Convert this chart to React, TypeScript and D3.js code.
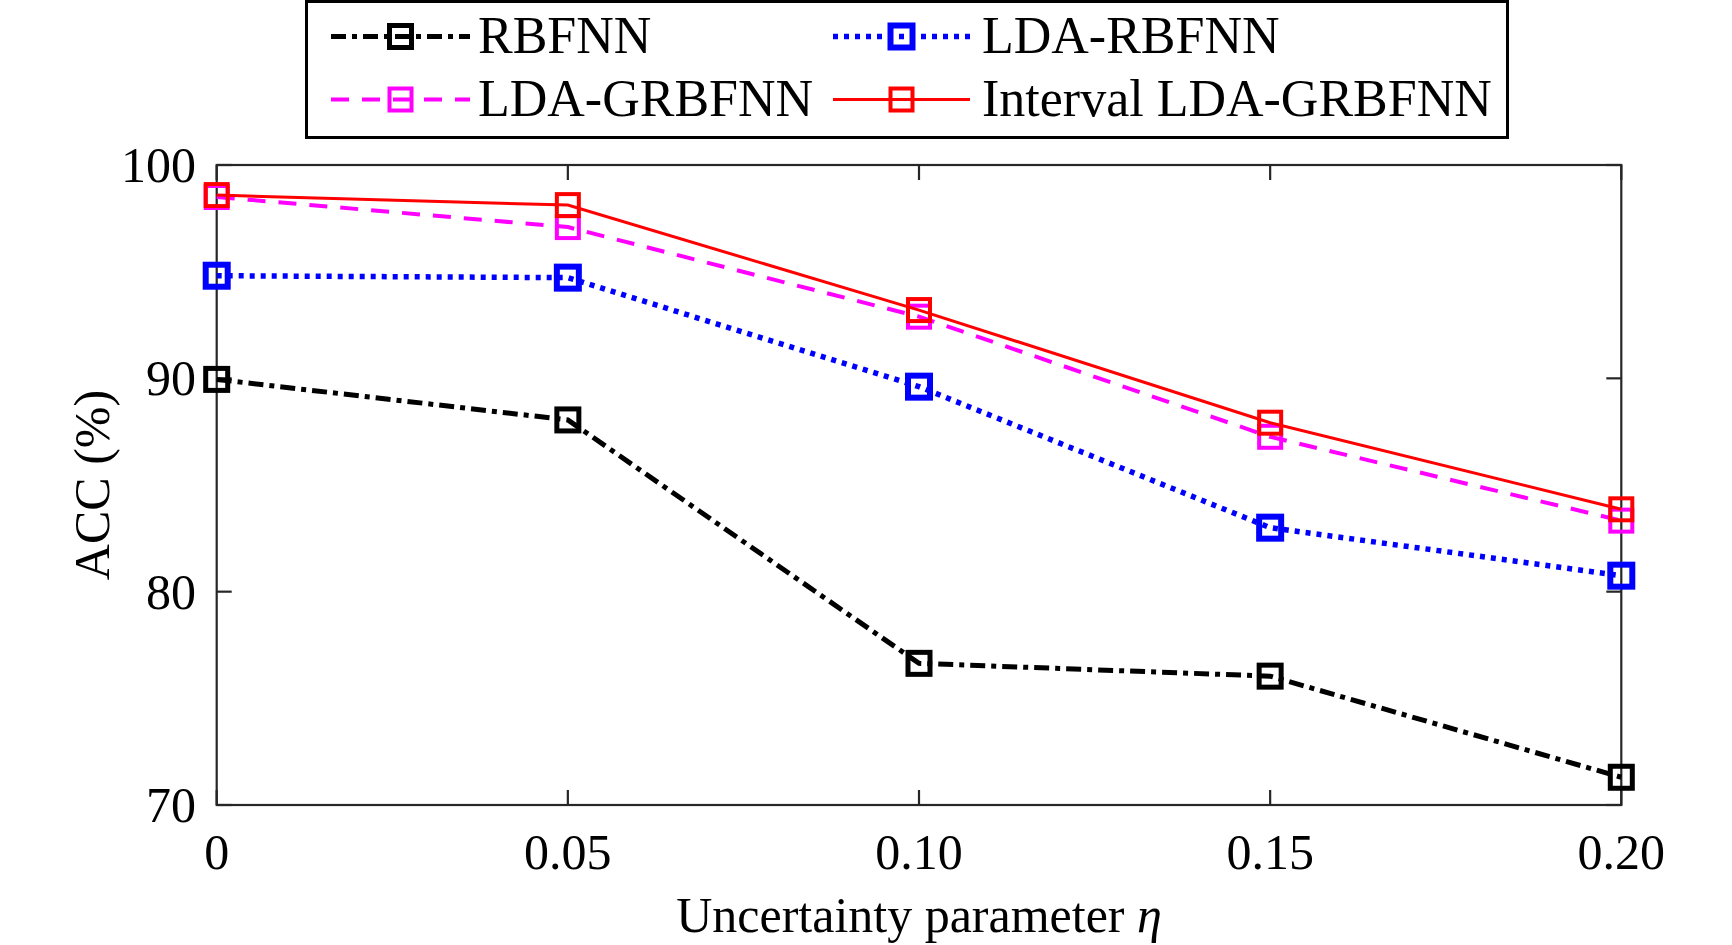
import React, { useEffect, useRef } from 'react';
import * as d3 from 'd3';

// uncertainty parameter values and their printed labels
const etaValues = [0, 0.05, 0.1, 0.15, 0.2];
const etaLabels = ['0', '0.05', '0.10', '0.15', '0.20'];
const accTicks = [70, 80, 90, 100];

// ACC (%) per method
const rbfnn = [89.95, 88.05, 76.64, 76.04, 71.3];
const ldaRbfnn = [94.81, 94.72, 89.61, 83.0, 80.75];
const ldaGrbfnn = [98.5, 97.09, 92.89, 87.26, 83.33];
const intervalLdaGrbfnn = [98.59, 98.12, 93.2, 87.92, 83.86];

const seriesNames = ['RBFNN', 'LDA-RBFNN', 'LDA-GRBFNN', 'Interval LDA-GRBFNN'];

const WIDTH = 1732;
const HEIGHT = 945;
const FONT = '"Liberation Serif", "Times New Roman", serif';

interface SeriesStyle {
  name: string;
  values: number[];
  color: string;
  width: number;
  dash: string | null;
  markerStroke: number;
}

const series: SeriesStyle[] = [
  { name: seriesNames[0], values: rbfnn, color: '#000000', width: 5, dash: '15,6,5,6', markerStroke: 5 },
  { name: seriesNames[1], values: ldaRbfnn, color: '#0000ff', width: 5.5, dash: '5,6', markerStroke: 6 },
  { name: seriesNames[2], values: ldaGrbfnn, color: '#ff00ff', width: 4, dash: '18,13', markerStroke: 4 },
  { name: seriesNames[3], values: intervalLdaGrbfnn, color: '#ff0000', width: 3, dash: null, markerStroke: 4 },
];

const Chart: React.FC = () => {
  const svgRef = useRef<SVGSVGElement>(null);

  useEffect(() => {
    if (!svgRef.current) return;
    const svg = d3.select(svgRef.current);
    svg.selectAll('*').remove();

    const left = 216.7, right = 1621.3, top = 165, bottom = 805;
    const axisColor = '#262626';
    const tickLen = 15;

    const x = d3.scaleLinear().domain([0, 0.2]).range([left, right]);
    const y = d3.scaleLinear().domain([70, 100]).range([bottom, top]);

    svg.append('rect').attr('width', WIDTH).attr('height', HEIGHT).attr('fill', '#fff');

    // box + ticks
    const axes = svg.append('g').attr('stroke', axisColor).attr('stroke-width', 2.2).attr('fill', 'none');
    axes.append('rect')
      .attr('x', left).attr('y', top)
      .attr('width', right - left).attr('height', bottom - top);

    etaValues.forEach(v => {
      axes.append('line').attr('x1', x(v)).attr('x2', x(v)).attr('y1', bottom).attr('y2', bottom - tickLen);
      axes.append('line').attr('x1', x(v)).attr('x2', x(v)).attr('y1', top).attr('y2', top + tickLen);
    });
    accTicks.forEach(v => {
      axes.append('line').attr('x1', left).attr('x2', left + tickLen).attr('y1', y(v)).attr('y2', y(v));
      axes.append('line').attr('x1', right).attr('x2', right - tickLen).attr('y1', y(v)).attr('y2', y(v));
    });

    // tick labels
    const labels = svg.append('g').attr('font-family', FONT).attr('font-size', 50).attr('fill', '#000');
    etaValues.forEach((v, i) => {
      labels.append('text')
        .attr('x', x(v)).attr('y', 869)
        .attr('text-anchor', 'middle')
        .text(etaLabels[i]);
    });
    accTicks.forEach(v => {
      labels.append('text')
        .attr('x', 196).attr('y', y(v) + 17)
        .attr('text-anchor', 'end')
        .text(String(v));
    });

    // axis titles
    const xt = labels.append('text')
      .attr('x', (left + right) / 2).attr('y', 932)
      .attr('text-anchor', 'middle');
    xt.append('tspan').text('Uncertainty parameter ');
    xt.append('tspan').attr('font-style', 'italic').text('η');

    labels.append('text')
      .attr('transform', `translate(109,${(top + bottom) / 2}) rotate(-90)`)
      .attr('text-anchor', 'middle')
      .text('ACC (%)');

    // series lines
    const line = d3.line<number>()
      .x((d, i) => x(etaValues[i]))
      .y(d => y(d));

    const markerSize = 22;
    const plot = svg.append('g');
    series.forEach(s => {
      const g = plot.append('g');
      g.append('path')
        .datum(s.values)
        .attr('d', line)
        .attr('fill', 'none')
        .attr('stroke', s.color)
        .attr('stroke-width', s.width)
        .attr('stroke-dasharray', s.dash)
        .attr('stroke-linejoin', 'miter');
      g.selectAll('rect')
        .data(s.values)
        .enter()
        .append('rect')
        .attr('x', (d, i) => x(etaValues[i]) - markerSize / 2)
        .attr('y', d => y(d) - markerSize / 2)
        .attr('width', markerSize)
        .attr('height', markerSize)
        .attr('fill', 'none')
        .attr('stroke', s.color)
        .attr('stroke-width', s.markerStroke);
    });

    // legend
    const legend = svg.append('g');
    legend.append('rect')
      .attr('x', 306.5).attr('y', 1.5)
      .attr('width', 1201).attr('height', 136)
      .attr('fill', '#fff')
      .attr('stroke', '#000')
      .attr('stroke-width', 3);

    const cols = [
      { x1: 331, x2: 470, tx: 478 },
      { x1: 833, x2: 970, tx: 982 },
    ];
    const rows = [36.5, 99.5];
    series.forEach((s, i) => {
      const c = cols[i % 2];
      const ry = rows[Math.floor(i / 2)];
      const mx = (c.x1 + c.x2) / 2;
      legend.append('line')
        .attr('x1', c.x1).attr('x2', c.x2)
        .attr('y1', ry).attr('y2', ry)
        .attr('stroke', s.color)
        .attr('stroke-width', s.width)
        .attr('stroke-dasharray', s.dash);
      legend.append('rect')
        .attr('x', mx - 11).attr('y', ry - 11)
        .attr('width', 22).attr('height', 22)
        .attr('fill', 'none')
        .attr('stroke', s.color)
        .attr('stroke-width', s.markerStroke);
      legend.append('text')
        .attr('x', c.tx).attr('y', ry + 16)
        .attr('font-family', FONT)
        .attr('font-size', 52)
        .attr('fill', '#000')
        .text(s.name);
    });
  }, []);

  return <svg ref={svgRef} width={WIDTH} height={HEIGHT} style={{ display: 'block' }} />;
};

export default function App() {
  return (
    <div style={{ position: 'absolute', left: 0, top: 0, width: WIDTH, height: HEIGHT, background: '#fff' }}>
      <Chart />
    </div>
  );
}
